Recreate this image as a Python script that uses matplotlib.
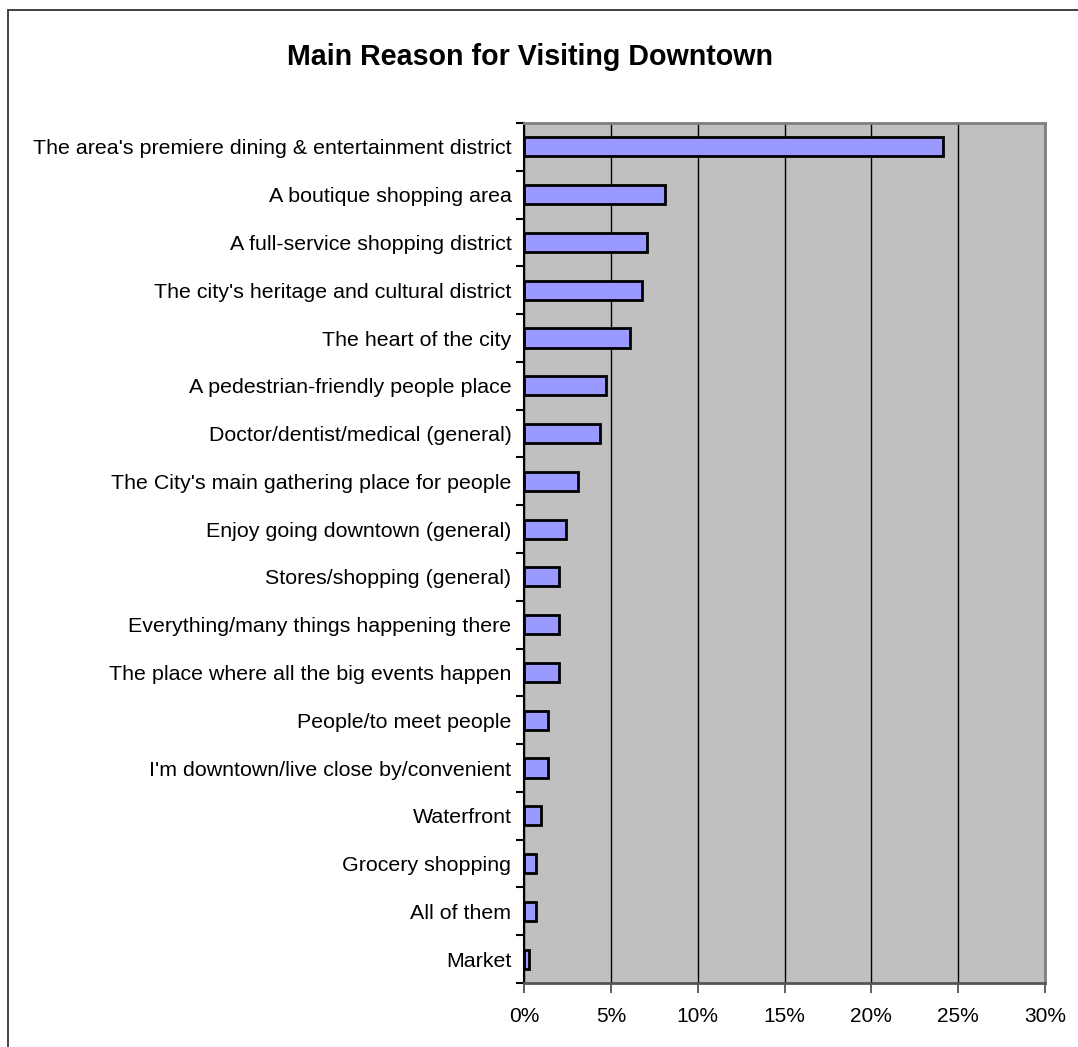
import matplotlib
matplotlib.use("Agg")
import matplotlib.pyplot as plt
from matplotlib.patches import Rectangle
from matplotlib.ticker import FuncFormatter, MultipleLocator

plt.rcParams['font.family'] = ['Liberation Sans', 'DejaVu Sans']

reasons = [
    "The area's premiere dining & entertainment district",
    "A boutique shopping area",
    "A full-service shopping district",
    "The city's heritage and cultural district",
    "The heart of the city",
    "A pedestrian-friendly people place",
    "Doctor/dentist/medical (general)",
    "The City's main gathering place for people",
    "Enjoy going downtown (general)",
    "Stores/shopping (general)",
    "Everything/many things happening there",
    "The place where all the big events happen",
    "People/to meet people",
    "I'm downtown/live close by/convenient",
    "Waterfront",
    "Grocery shopping",
    "All of them",
    "Market",
]
shares = [24.1, 8.1, 7.1, 6.8, 6.1, 4.7, 4.4, 3.1, 2.4, 2.0, 2.0, 2.0,
          1.4, 1.4, 1.0, 0.7, 0.7, 0.3]
x_ticks = [0, 5, 10, 15, 20, 25, 30]

W, H = 1078, 1047
fig = plt.figure(figsize=(W / 100, H / 100), dpi=100)

# outer chart border (runs off the right and bottom edges)
fig.patches.append(Rectangle((8 / W, 0 - 0.01), 1.1, 1 - 10 / H + 0.01,
                             transform=fig.transFigure, fill=False,
                             edgecolor='#333333', linewidth=1.3))

ax = fig.add_axes([524 / W, 1 - 983 / H, (1045 - 524) / W, (983 - 123) / H])
ax.set_facecolor('#C0C0C0')

pos = list(range(len(reasons)))
ax.barh(pos, shares, height=0.4, color='#9999FF', edgecolor='black',
        linewidth=2, zorder=3)

ax.set_ylim(len(reasons) - 0.5, -0.5)
ax.set_xlim(0, 30)
ax.set_xticks(x_ticks)
ax.xaxis.set_major_formatter(FuncFormatter(lambda v, p: f"{v:.0f}%"))
ax.grid(axis='x', color='black', linewidth=1, zorder=1)

ax.set_yticks(pos)
ax.set_yticklabels(reasons, fontsize=15.4)
ax.yaxis.set_minor_locator(MultipleLocator(1, offset=0.5))
ax.tick_params(axis='y', which='major', length=0, pad=9)
ax.tick_params(axis='y', which='minor', length=6, width=1.5, color='black')
ax.tick_params(axis='x', length=7, width=1.2, color='#444444',
               labelsize=15, pad=10)

for side in ['top', 'right']:
    ax.spines[side].set_color('#808080')
    ax.spines[side].set_linewidth(2)
ax.spines['left'].set_color('black')
ax.spines['left'].set_linewidth(1.5)
ax.spines['bottom'].set_color('#555555')
ax.spines['bottom'].set_linewidth(2)

fig.text(530 / W, 1 - 57 / H, "Main Reason for Visiting Downtown",
         ha='center', va='center', fontsize=20.6, fontweight='bold')

fig.savefig("out.png", dpi=100)
